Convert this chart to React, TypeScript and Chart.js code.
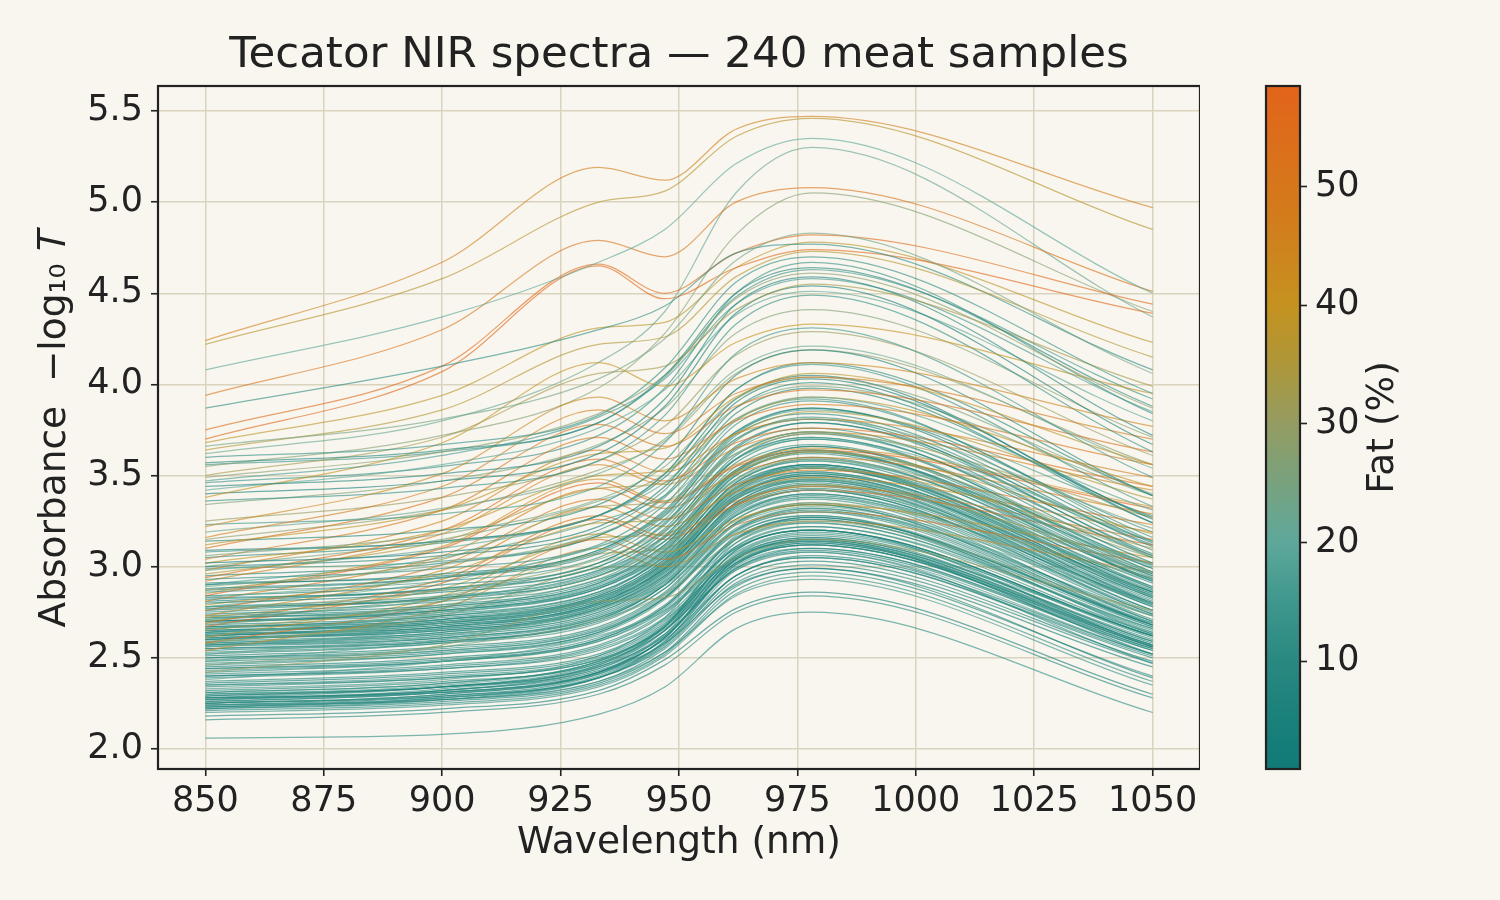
import React, { useEffect, useRef } from "react";
import { Chart, registerables } from "chart.js";

Chart.register(...registerables);

// ---------- data ----------
const wavelengths = [850, 900, 933, 947, 962, 978, 1050];
const xTicks = [850, 875, 900, 925, 950, 975, 1000, 1025, 1050];
const yTicks = [2.0, 2.5, 3.0, 3.5, 4.0, 4.5, 5.0, 5.5];
const fatTicks = [10, 20, 30, 40, 50];
const fatRange = [0.9, 58.5];

// each row: [fat %, absorbance at 850, 900, 933, 947, 962, 978, 1050 nm]
const topSpectra = [
  [46, 4.24, 4.67, 5.19, 5.12, 5.40, 5.47, 4.97],
  [37, 4.22, 4.58, 5.00, 5.06, 5.36, 5.46, 4.85],
  [20, 4.08, 4.37, 4.67, 4.85, 5.21, 5.35, 4.50],
  [51, 3.94, 4.30, 4.79, 4.70, 5.00, 5.08, 4.51],
  [11, 3.87, 4.10, 4.30, 4.43, 4.72, 4.77, 4.08],
  [55, 3.75, 4.10, 4.66, 4.50, 4.72, 4.82, 4.44],
  [57, 3.70, 4.07, 4.65, 4.47, 4.64, 4.74, 4.39],
  [22, 3.62, 3.80, 4.12, 4.40, 5.05, 5.30, 4.37],
  [27, 3.55, 3.72, 3.98, 4.28, 4.82, 5.05, 4.40],
  [38, 3.68, 3.94, 4.31, 4.34, 4.64, 4.78, 4.23],
  [14, 3.56, 3.63, 3.79, 4.04, 4.48, 4.63, 3.92],
];

const lowFatSpectra = [
  [12, 3.60, 3.67, 3.83, 4.09, 4.56, 4.70, 3.95],
  [9, 3.57, 3.64, 3.79, 4.05, 4.50, 4.64, 3.88],
  [8, 3.44, 3.51, 3.66, 3.92, 4.44, 4.59, 3.72],
  [5, 3.40, 3.47, 3.62, 3.88, 4.39, 4.54, 3.67],
  [12, 3.36, 3.43, 3.58, 3.83, 4.33, 4.49, 3.63],
  [15, 3.23, 3.29, 3.44, 3.68, 4.17, 4.31, 3.49],
  [7, 3.14, 3.20, 3.34, 3.58, 4.05, 4.19, 3.39],
  [14, 3.08, 3.14, 3.28, 3.51, 3.97, 4.11, 3.33],
  [2, 3.02, 3.08, 3.22, 3.44, 3.90, 4.03, 3.26],
  [9, 3.00, 3.06, 3.20, 3.42, 3.87, 4.01, 3.24],
  [11, 2.93, 2.99, 3.12, 3.34, 3.78, 3.91, 3.16],
  [4, 2.90, 2.96, 3.09, 3.31, 3.74, 3.87, 3.13],
  [8, 2.88, 2.94, 3.07, 3.28, 3.72, 3.84, 3.11],
  [13, 2.86, 2.92, 3.05, 3.26, 3.69, 3.82, 3.09],
  [6, 2.84, 2.90, 3.02, 3.24, 3.66, 3.79, 3.07],
  [10, 2.82, 2.88, 3.00, 3.21, 3.64, 3.76, 3.05],
  [3, 2.80, 2.86, 2.98, 3.19, 3.61, 3.74, 3.02],
  [15, 2.78, 2.84, 2.96, 3.17, 3.59, 3.71, 3.00],
  [7, 2.77, 2.83, 2.95, 3.16, 3.57, 3.70, 2.99],
  [12, 2.75, 2.81, 2.93, 3.14, 3.55, 3.67, 2.97],
  [5, 2.74, 2.79, 2.92, 3.12, 3.53, 3.66, 2.96],
  [9, 2.73, 2.78, 2.91, 3.11, 3.52, 3.64, 2.95],
  [14, 2.72, 2.77, 2.90, 3.10, 3.51, 3.63, 2.94],
  [2, 2.70, 2.75, 2.88, 3.08, 3.48, 3.60, 2.92],
  [11, 2.70, 2.76, 2.89, 3.09, 3.50, 3.62, 2.93],
  [6, 2.68, 2.73, 2.85, 3.06, 3.46, 3.58, 2.89],
  [8, 2.67, 2.72, 2.84, 3.04, 3.44, 3.56, 2.88],
  [13, 2.66, 2.71, 2.83, 3.03, 3.43, 3.55, 2.87],
  [4, 2.65, 2.70, 2.82, 3.02, 3.42, 3.54, 2.86],
  [10, 2.64, 2.69, 2.81, 3.01, 3.41, 3.52, 2.85],
  [16, 2.64, 2.70, 2.83, 3.03, 3.43, 3.55, 2.88],
  [7, 2.63, 2.68, 2.80, 3.00, 3.39, 3.51, 2.84],
  [3, 2.62, 2.67, 2.79, 2.99, 3.38, 3.50, 2.83],
  [12, 2.62, 2.68, 2.80, 3.00, 3.40, 3.52, 2.85],
  [9, 2.61, 2.66, 2.78, 2.98, 3.37, 3.48, 2.82],
  [5, 2.60, 2.65, 2.77, 2.96, 3.35, 3.47, 2.81],
  [15, 2.60, 2.66, 2.78, 2.98, 3.37, 3.49, 2.83],
  [8, 2.59, 2.64, 2.76, 2.95, 3.34, 3.46, 2.80],
  [11, 2.58, 2.63, 2.75, 2.94, 3.33, 3.44, 2.79],
  [6, 2.57, 2.62, 2.74, 2.93, 3.32, 3.43, 2.78],
  [14, 2.57, 2.63, 2.75, 2.94, 3.33, 3.45, 2.79],
  [2, 2.56, 2.61, 2.73, 2.92, 3.30, 3.42, 2.76],
  [10, 2.55, 2.60, 2.72, 2.91, 3.29, 3.40, 2.75],
  [7, 2.54, 2.59, 2.71, 2.90, 3.28, 3.39, 2.74],
  [13, 2.53, 2.58, 2.69, 2.88, 3.26, 3.38, 2.73],
  [4, 2.51, 2.56, 2.67, 2.86, 3.24, 3.35, 2.71],
  [9, 2.50, 2.55, 2.66, 2.85, 3.23, 3.34, 2.70],
  [16, 2.49, 2.54, 2.65, 2.84, 3.21, 3.32, 2.69],
  [6, 2.48, 2.53, 2.64, 2.83, 3.20, 3.31, 2.68],
  [12, 2.47, 2.52, 2.63, 2.82, 3.19, 3.30, 2.67],
  [3, 2.45, 2.50, 2.61, 2.79, 3.16, 3.27, 2.68],
  [8, 2.44, 2.49, 2.60, 2.78, 3.15, 3.26, 2.67],
  [14, 2.43, 2.48, 2.59, 2.77, 3.13, 3.24, 2.65],
  [10, 2.41, 2.46, 2.57, 2.75, 3.11, 3.22, 2.63],
  [5, 2.40, 2.45, 2.56, 2.74, 3.10, 3.20, 2.62],
  [11, 2.39, 2.44, 2.55, 2.72, 3.08, 3.19, 2.61],
  [7, 2.37, 2.42, 2.52, 2.70, 3.06, 3.16, 2.59],
  [2, 2.36, 2.41, 2.51, 2.69, 3.04, 3.15, 2.58],
  [13, 2.35, 2.40, 2.50, 2.68, 3.03, 3.14, 2.57],
  [9, 2.34, 2.39, 2.49, 2.67, 3.02, 3.12, 2.56],
  [6, 2.32, 2.37, 2.47, 2.65, 3.02, 3.13, 2.57],
  [12, 2.31, 2.36, 2.48, 2.67, 3.07, 3.18, 2.62],
  [15, 2.30, 2.35, 2.48, 2.68, 3.11, 3.22, 2.66],
  [4, 2.30, 2.34, 2.45, 2.62, 2.99, 3.10, 2.55],
  [8, 2.29, 2.34, 2.46, 2.65, 3.05, 3.16, 2.60],
  [10, 2.28, 2.34, 2.47, 2.67, 3.13, 3.24, 2.66],
  [3, 2.28, 2.32, 2.43, 2.60, 2.95, 3.06, 2.52],
  [14, 2.27, 2.32, 2.44, 2.62, 3.02, 3.13, 2.57],
  [7, 2.27, 2.32, 2.45, 2.65, 3.09, 3.20, 2.62],
  [11, 2.26, 2.31, 2.41, 2.58, 2.95, 3.05, 2.51],
  [5, 2.26, 2.31, 2.42, 2.61, 3.01, 3.12, 2.56],
  [9, 2.25, 2.30, 2.42, 2.63, 3.06, 3.17, 2.59],
  [2, 2.25, 2.29, 2.39, 2.56, 2.93, 3.03, 2.48],
  [13, 2.24, 2.28, 2.40, 2.59, 3.00, 3.10, 2.54],
  [6, 2.24, 2.29, 2.41, 2.61, 3.04, 3.15, 2.57],
  [8, 2.23, 2.27, 2.37, 2.55, 2.91, 3.01, 2.47],
  [16, 2.23, 2.28, 2.39, 2.58, 2.98, 3.08, 2.52],
  [4, 2.22, 2.26, 2.36, 2.53, 2.89, 2.99, 2.45],
  [10, 2.22, 2.27, 2.39, 2.59, 3.01, 3.12, 2.55],
  [7, 2.21, 2.25, 2.35, 2.52, 2.87, 2.97, 2.40],
  [12, 2.20, 2.24, 2.34, 2.51, 2.85, 2.95, 2.37],
  [5, 2.18, 2.22, 2.32, 2.49, 2.77, 2.86, 2.30],
  [9, 2.16, 2.20, 2.30, 2.46, 2.75, 2.84, 2.28],
  [11, 2.06, 2.08, 2.19, 2.34, 2.66, 2.75, 2.20],
  [5, 2.23, 2.28, 2.39, 2.57, 2.95, 3.05, 2.50],
  [8, 2.25, 2.30, 2.42, 2.61, 3.04, 3.14, 2.56],
  [12, 2.27, 2.33, 2.46, 2.67, 3.15, 3.26, 2.64],
  [3, 2.29, 2.34, 2.44, 2.63, 2.99, 3.09, 2.54],
  [10, 2.31, 2.36, 2.48, 2.67, 3.09, 3.20, 2.62],
  [14, 2.33, 2.38, 2.51, 2.72, 3.17, 3.28, 2.68],
  [6, 2.42, 2.48, 2.60, 2.78, 3.15, 3.27, 2.69],
  [11, 2.46, 2.52, 2.64, 2.83, 3.20, 3.32, 2.73],
  [4, 2.52, 2.58, 2.71, 2.90, 3.28, 3.40, 2.80],
  [9, 2.58, 2.64, 2.77, 2.97, 3.35, 3.48, 2.86],
  [13, 2.60, 2.67, 2.80, 2.99, 3.38, 3.51, 2.89],
  [7, 2.62, 2.69, 2.82, 3.01, 3.41, 3.54, 2.91],
  [2, 2.64, 2.71, 2.84, 3.04, 3.43, 3.56, 2.93],
  [10, 2.66, 2.73, 2.86, 3.06, 3.46, 3.59, 2.95],
  [5, 2.69, 2.76, 2.89, 3.09, 3.50, 3.63, 2.99],
  [12, 2.71, 2.78, 2.91, 3.12, 3.52, 3.66, 3.01],
  [8, 2.76, 2.83, 2.97, 3.17, 3.59, 3.73, 3.06],
  [4, 2.81, 2.88, 3.02, 3.23, 3.65, 3.79, 3.12],
  [9, 2.87, 2.94, 3.09, 3.30, 3.73, 3.87, 3.19],
  [6, 2.95, 3.02, 3.17, 3.39, 3.84, 3.98, 3.27],
  [11, 3.05, 3.13, 3.28, 3.51, 3.97, 4.12, 3.39],
  [13, 3.46, 3.55, 3.72, 3.98, 4.50, 4.67, 3.84],
  [14, 2.24, 2.27, 2.37, 2.53, 2.84, 2.93, 2.35],
  [6, 2.28, 2.31, 2.42, 2.58, 2.90, 2.99, 2.39],
  [10, 2.35, 2.39, 2.49, 2.66, 2.98, 3.08, 2.47],
  [3, 2.40, 2.44, 2.54, 2.71, 3.05, 3.14, 2.52],
  [12, 2.44, 2.48, 2.59, 2.76, 3.10, 3.20, 2.56],
  [7, 2.50, 2.54, 2.65, 2.83, 3.18, 3.28, 2.63],
  [1, 2.55, 2.59, 2.70, 2.88, 3.24, 3.34, 2.68],
  [11, 2.57, 2.61, 2.72, 2.90, 3.26, 3.37, 2.70],
  [5, 2.61, 2.65, 2.77, 2.95, 3.31, 3.42, 2.74],
  [13, 2.63, 2.67, 2.79, 2.97, 3.34, 3.45, 2.76],
  [8, 2.65, 2.69, 2.81, 2.99, 3.37, 3.47, 2.78],
  [2, 2.67, 2.71, 2.83, 3.02, 3.39, 3.50, 2.80],
  [10, 2.70, 2.74, 2.86, 3.05, 3.43, 3.54, 2.84],
  [6, 2.72, 2.76, 2.88, 3.07, 3.45, 3.56, 2.86],
  [4, 2.78, 2.82, 2.95, 3.14, 3.53, 3.64, 2.92],
  [11, 2.83, 2.87, 3.00, 3.20, 3.59, 3.71, 2.97],
  [7, 2.91, 2.95, 3.08, 3.29, 3.70, 3.81, 3.06],
  [14, 2.99, 3.03, 3.17, 3.38, 3.80, 3.92, 3.14],
  [5, 3.09, 3.14, 3.28, 3.49, 3.92, 4.05, 3.24],
];

const midFatSpectra = [
  [24, 3.66, 3.81, 4.03, 4.25, 4.68, 4.83, 4.06],
  [28, 3.49, 3.63, 3.84, 4.05, 4.47, 4.61, 3.87],
  [16, 3.47, 3.61, 3.82, 4.03, 4.44, 4.58, 3.85],
  [20, 3.42, 3.56, 3.76, 3.97, 4.38, 4.51, 3.80],
  [26, 3.34, 3.47, 3.67, 3.87, 4.28, 4.41, 3.71],
  [30, 3.25, 3.38, 3.58, 3.77, 4.16, 4.29, 3.61],
  [22, 3.19, 3.32, 3.51, 3.70, 4.08, 4.21, 3.54],
  [25, 3.06, 3.18, 3.37, 3.55, 3.92, 4.04, 3.40],
  [19, 2.98, 3.10, 3.28, 3.46, 3.81, 3.93, 3.31],
  [23, 2.89, 3.01, 3.18, 3.35, 3.70, 3.81, 3.21],
  [21, 2.83, 2.94, 3.11, 3.28, 3.62, 3.74, 3.14],
  [27, 2.76, 2.87, 3.04, 3.20, 3.53, 3.64, 3.06],
  [18, 2.71, 2.82, 2.98, 3.14, 3.47, 3.58, 3.01],
  [24, 2.68, 2.79, 2.95, 3.11, 3.43, 3.54, 2.97],
  [20, 2.63, 2.74, 2.89, 3.05, 3.37, 3.47, 2.92],
  [22, 2.59, 2.69, 2.85, 3.00, 3.32, 3.42, 2.87],
  [19, 2.56, 2.66, 2.82, 2.97, 3.28, 3.38, 2.84],
  [21, 2.52, 2.62, 2.77, 2.92, 3.23, 3.33, 2.80],
  [25, 2.46, 2.56, 2.71, 2.85, 3.15, 3.25, 2.73],
  [17, 2.38, 2.48, 2.62, 2.76, 3.05, 3.14, 2.64],
  [18, 2.48, 2.60, 2.78, 2.90, 3.20, 3.30, 2.80],
  [23, 2.62, 2.75, 2.93, 3.07, 3.38, 3.48, 2.96],
  [26, 2.70, 2.84, 3.02, 3.16, 3.48, 3.59, 3.05],
  [20, 2.78, 2.92, 3.11, 3.25, 3.59, 3.70, 3.14],
  [17, 2.90, 3.05, 3.25, 3.39, 3.74, 3.86, 3.28],
  [24, 3.00, 3.15, 3.36, 3.51, 3.87, 3.99, 3.39],
  [28, 3.15, 3.31, 3.53, 3.69, 4.06, 4.19, 3.56],
];

const highFatSpectra = [
  [36, 3.64, 3.86, 4.22, 4.26, 4.59, 4.73, 4.15],
  [33, 3.50, 3.71, 4.06, 4.10, 4.41, 4.55, 3.99],
  [40, 3.38, 3.68, 4.12, 3.99, 4.23, 4.33, 3.95],
  [44, 3.22, 3.51, 3.93, 3.80, 4.03, 4.12, 3.77],
  [48, 3.16, 3.44, 3.86, 3.73, 3.95, 4.04, 3.70],
  [38, 3.12, 3.31, 3.62, 3.65, 3.93, 4.06, 3.56],
  [52, 3.10, 3.38, 3.78, 3.66, 3.88, 3.97, 3.63],
  [50, 3.04, 3.31, 3.71, 3.59, 3.80, 3.89, 3.56],
  [39, 3.02, 3.20, 3.50, 3.53, 3.81, 3.93, 3.44],
  [46, 2.98, 3.25, 3.64, 3.52, 3.73, 3.81, 3.49],
  [35, 2.96, 3.14, 3.43, 3.46, 3.73, 3.85, 3.37],
  [54, 2.94, 3.20, 3.59, 3.47, 3.68, 3.76, 3.44],
  [45, 2.92, 3.18, 3.56, 3.45, 3.65, 3.74, 3.42],
  [32, 2.87, 3.04, 3.33, 3.36, 3.62, 3.73, 3.27],
  [42, 2.85, 3.11, 3.48, 3.36, 3.56, 3.65, 3.33],
  [58, 2.84, 3.10, 3.46, 3.35, 3.55, 3.64, 3.32],
  [47, 2.81, 3.06, 3.43, 3.32, 3.51, 3.60, 3.29],
  [37, 2.79, 2.96, 3.24, 3.26, 3.52, 3.63, 3.18],
  [51, 2.76, 3.01, 3.37, 3.26, 3.45, 3.53, 3.23],
  [44, 2.73, 2.98, 3.33, 3.22, 3.41, 3.49, 3.19],
  [35, 2.72, 2.88, 3.16, 3.18, 3.43, 3.54, 3.10],
  [49, 2.69, 2.93, 3.28, 3.17, 3.36, 3.44, 3.15],
  [56, 2.67, 2.91, 3.26, 3.15, 3.34, 3.42, 3.12],
  [33, 2.65, 2.81, 3.07, 3.10, 3.34, 3.45, 3.02],
  [41, 2.61, 2.84, 3.18, 3.08, 3.26, 3.34, 3.05],
  [53, 2.58, 2.81, 3.15, 3.04, 3.23, 3.30, 3.02],
  [30, 2.58, 2.73, 2.99, 3.02, 3.25, 3.35, 2.94],
  [43, 2.54, 2.77, 3.10, 3.00, 3.18, 3.25, 2.97],
  [31, 2.42, 2.57, 2.81, 2.83, 3.05, 3.15, 2.76],
];

// colormap (fat % -> rgb)
const cmapFat = [0.9, 5, 10, 15, 20, 25, 30, 35, 40, 47, 58.5];
const cmapRGB = [
  [16, 122, 119],
  [26, 128, 122],
  [41, 137, 129],
  [63, 151, 141],
  [94, 168, 155],
  [120, 162, 126],
  [148, 156, 98],
  [173, 151, 58],
  [197, 146, 31],
  [210, 125, 28],
  [226, 100, 26],
];

const BG = "#f9f6ef";
const GRID = "#dad3be";
const INK = "#222222";
const FONT = "'DejaVu Sans', sans-serif";

function fatRGB(f: number): number[] {
  if (f <= cmapFat[0]) return cmapRGB[0];
  for (let i = 1; i < cmapFat.length; i++) {
    if (f <= cmapFat[i]) {
      const t = (f - cmapFat[i - 1]) / (cmapFat[i] - cmapFat[i - 1]);
      return cmapRGB[i].map((c, k) => Math.round(cmapRGB[i - 1][k] + (c - cmapRGB[i - 1][k]) * t));
    }
  }
  return cmapRGB[cmapRGB.length - 1];
}

function rgba(c: number[], a: number) {
  return `rgba(${c[0]},${c[1]},${c[2]},${a})`;
}

function interleave(groups: number[][][]): number[][] {
  const out: number[][] = [];
  const maxLen = Math.max(...groups.map((g) => g.length));
  for (let i = 0; i < maxLen; i++) {
    for (const g of groups) if (i < g.length) out.push(g[i]);
  }
  return out;
}

const bgPlugin = {
  id: "bgFill",
  beforeDraw(chart: any) {
    const { ctx, width, height } = chart;
    ctx.save();
    ctx.fillStyle = BG;
    ctx.fillRect(0, 0, width, height);
    ctx.restore();
  },
};

const framePlugin = {
  id: "frame",
  afterDraw(chart: any) {
    const { ctx, chartArea: a } = chart;
    ctx.save();
    ctx.strokeStyle = INK;
    ctx.lineWidth = 2.2;
    ctx.strokeRect(a.left, a.top, a.right - a.left, a.bottom - a.top);
    ctx.restore();
  },
};

export default function App() {
  const mainRef = useRef<HTMLCanvasElement>(null);
  const barRef = useRef<HTMLCanvasElement>(null);

  useEffect(() => {
    const samples = interleave([lowFatSpectra, midFatSpectra, highFatSpectra, topSpectra]);
    const datasets = samples.map((s) => ({
      data: wavelengths.map((w, i) => ({ x: w, y: s[i + 1] })),
      borderColor: rgba(fatRGB(s[0]), 0.62),
      borderWidth: 1.25,
      pointRadius: 0,
      fill: false,
      cubicInterpolationMode: "monotone" as const,
    }));

    const main = new Chart(mainRef.current!, {
      type: "line",
      data: { datasets },
      options: {
        animation: false,
        responsive: false,
        events: [],
        layout: { padding: { left: 0, right: 300, top: 0, bottom: 0 } },
        plugins: {
          legend: { display: false },
          tooltip: { enabled: false },
          title: {
            display: true,
            fullSize: false,
            align: "center",
            text: "Tecator NIR spectra — 240 meat samples",
            color: INK,
            font: { family: FONT, size: 43.5, weight: "normal" },
            padding: { top: 29.5, bottom: 4.3 },
          },
        },
        scales: {
          x: {
            type: "linear",
            min: 840,
            max: 1060,
            afterBuildTicks: (s: any) => {
              s.ticks = xTicks.map((v) => ({ value: v }));
            },
            afterFit: (s: any) => {
              s.height = 131;
            },
            ticks: {
              color: INK,
              font: { family: FONT, size: 35 },
              padding: 5,
              maxRotation: 0,
              autoSkip: false,
              callback: (v: any) => String(v),
            },
            grid: { color: GRID, lineWidth: 1.5, tickLength: 7, tickColor: INK, tickWidth: 1.6 },
            border: { display: false },
            title: {
              display: true,
              text: "Wavelength (nm)",
              color: INK,
              font: { family: FONT, size: 37.5 },
              padding: { top: 0, bottom: 34 },
            },
          },
          y: {
            type: "linear",
            min: 1.89,
            max: 5.637,
            afterBuildTicks: (s: any) => {
              s.ticks = yTicks.map((v) => ({ value: v }));
            },
            afterFit: (s: any) => {
              s.width = 158;
            },
            ticks: {
              color: INK,
              font: { family: FONT, size: 35 },
              padding: 8,
              autoSkip: false,
              callback: (v: any) => Number(v).toFixed(1),
            },
            grid: { color: GRID, lineWidth: 1.5, tickLength: 7, tickColor: INK, tickWidth: 1.6 },
            border: { display: false },
            title: {
              display: true,
              text: "Absorbance  −log₁₀ 𝑇",
              color: INK,
              font: { family: FONT, size: 37.5 },
              padding: { top: 33, bottom: 0 },
            },
          },
        },
      },
      plugins: [bgPlugin, framePlugin],
    } as any);

    const fatLabelPlugin = {
      id: "fatLabel",
      afterDraw(chart: any) {
        const { ctx, chartArea: a } = chart;
        ctx.save();
        ctx.fillStyle = INK;
        ctx.font = `37.5px ${FONT}`;
        ctx.textAlign = "center";
        ctx.textBaseline = "middle";
        ctx.translate(183, (a.top + a.bottom) / 2);
        ctx.rotate(-Math.PI / 2);
        ctx.fillText("Fat (%)", 0, 0);
        ctx.restore();
      },
    };

    const bar = new Chart(barRef.current!, {
      type: "bar",
      data: {
        labels: ["fat"],
        datasets: [
          {
            data: [[fatRange[0], fatRange[1]]],
            barPercentage: 1,
            categoryPercentage: 1,
            borderWidth: 0,
            backgroundColor: (c: any) => {
              const { chart } = c;
              const area = chart.chartArea;
              if (!area) return rgba(cmapRGB[0], 1);
              const g = chart.ctx.createLinearGradient(0, area.bottom, 0, area.top);
              cmapFat.forEach((f, i) => {
                g.addColorStop((f - fatRange[0]) / (fatRange[1] - fatRange[0]), rgba(cmapRGB[i], 1));
              });
              return g;
            },
          },
        ],
      },
      options: {
        animation: false,
        responsive: false,
        events: [],
        layout: { padding: { left: 66, right: 0, top: 86, bottom: 131 } },
        plugins: { legend: { display: false }, tooltip: { enabled: false }, title: { display: false } },
        scales: {
          x: { display: false },
          y: {
            position: "right",
            min: fatRange[0],
            max: fatRange[1],
            afterBuildTicks: (s: any) => {
              s.ticks = fatTicks.map((v) => ({ value: v }));
            },
            afterFit: (s: any) => {
              s.width = 200;
            },
            ticks: {
              color: INK,
              font: { family: FONT, size: 35 },
              padding: 8,
              callback: (v: any) => String(v),
            },
            grid: { drawOnChartArea: false, tickLength: 7, tickColor: INK, tickWidth: 1.6 },
            border: { display: false },
          },
        },
      },
      plugins: [bgPlugin, framePlugin, fatLabelPlugin],
    } as any);

    return () => {
      main.destroy();
      bar.destroy();
    };
  }, []);

  return (
    <div style={{ position: "fixed", left: 0, top: 0, width: 1500, height: 900, background: BG }}>
      <canvas ref={mainRef} width={1500} height={900} style={{ position: "absolute", left: 0, top: 0 }} />
      <canvas ref={barRef} width={300} height={900} style={{ position: "absolute", left: 1200, top: 0 }} />
    </div>
  );
}
